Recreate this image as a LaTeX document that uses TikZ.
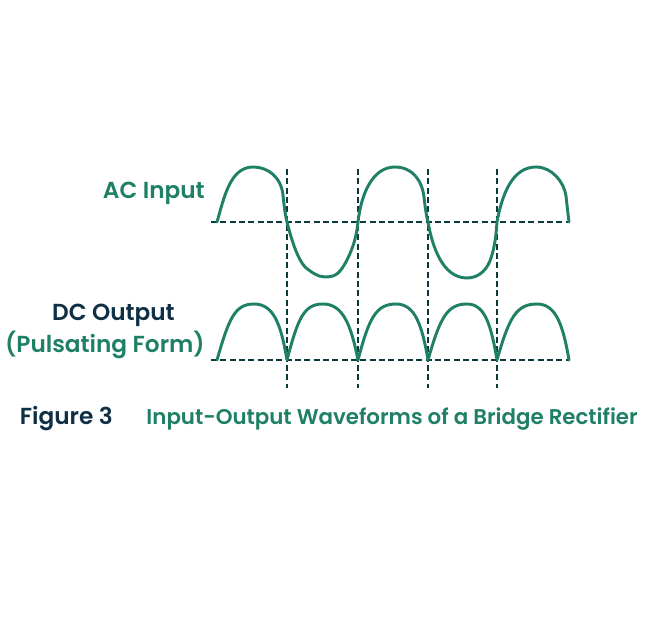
\documentclass[tikz,border=0pt]{standalone}
\usepackage{fontspec}
\setmainfont{Poppins}[BoldFont={Poppins SemiBold}]
\definecolor{wavegreen}{HTML}{1F8065}
\definecolor{navy}{HTML}{0F2F44}
\definecolor{dashc}{HTML}{0C3A3C}
\tikzset{
  wave/.style={draw=wavegreen,line width=2.2pt,line join=round,line cap=round},
  guide/.style={draw=dashc,line width=1.4pt,dash pattern=on 4.6pt off 2.4pt},
  lbl/.style={inner sep=0pt,anchor=base east,font=\bfseries\fontsize{17.4pt}{20pt}\selectfont},
  capt/.style={inner sep=0pt,anchor=base east,font=\bfseries\fontsize{16pt}{20pt}\selectfont},
}
\begin{document}
\begin{tikzpicture}[x=0.75pt,y=-0.75pt]
\useasboundingbox (0,0) rectangle (650,620);
\fill[white] (0,0) rectangle (650,620);
% guides
\foreach \x in {287,358,428,497} \draw[guide] (\x,169) -- (\x,388);
\draw[guide] (211,222) -- (570,222);
\draw[guide] (211,360) -- (570,360);
% AC wave
\draw[wave] (217,222) .. controls (224,198) and (230,167) .. (253,167)
  .. controls (268,167) and (281,177) .. (283,195)
  .. controls (284,205) and (285,214) .. (287,222)
  .. controls (291,238) and (297,258) .. (305,267)
  .. controls (311,272) and (318,277) .. (325,277)
  .. controls (337,277) and (340,272) .. (346,262)
  .. controls (352,250) and (356,240) .. (358,222)
  .. controls (361,195) and (372,167) .. (395,167)
  .. controls (412,167) and (422,180) .. (424,197)
  .. controls (425,206) and (426,214) .. (428,222)
  .. controls (432,245) and (442,278) .. (467,278)
  .. controls (480,278) and (488,268) .. (491,258)
  .. controls (495,246) and (496,235) .. (497,222)
  .. controls (502,195) and (512,167) .. (536,167)
  .. controls (552,167) and (564,182) .. (566,196)
  .. controls (567,205) and (568,214) .. (569,222);
% DC wave
\draw[wave] (217,360) .. controls (229,318) and (235,304) .. (254,304)
  .. controls (274,304) and (281,325) .. (287,360)
  .. controls (298,318) and (304,304) .. (323,304)
  .. controls (343,304) and (351,325) .. (358,360)
  .. controls (369,318) and (376,304) .. (396,304)
  .. controls (415,304) and (422,325) .. (428,360)
  .. controls (440,318) and (447,304) .. (467,304)
  .. controls (485,304) and (491,325) .. (497,360)
  .. controls (509,318) and (516,304) .. (537,304)
  .. controls (556,304) and (563,325) .. (569,360);
% labels
\node[lbl,text=wavegreen] (ac) at (205,199) {AC Input};
\node[lbl,text=navy] (dc) at (175,321) {DC Output};
\node[lbl,text=wavegreen] (pf) at (205,353) {(Pulsating Form)};
\node[lbl,text=navy] (fig) at (113,424) {Figure 3};
\node[capt,text=wavegreen] (cap) at (638,424) {Input-Output Waveforms of a Bridge Rectifier};
\end{tikzpicture}
\end{document}
